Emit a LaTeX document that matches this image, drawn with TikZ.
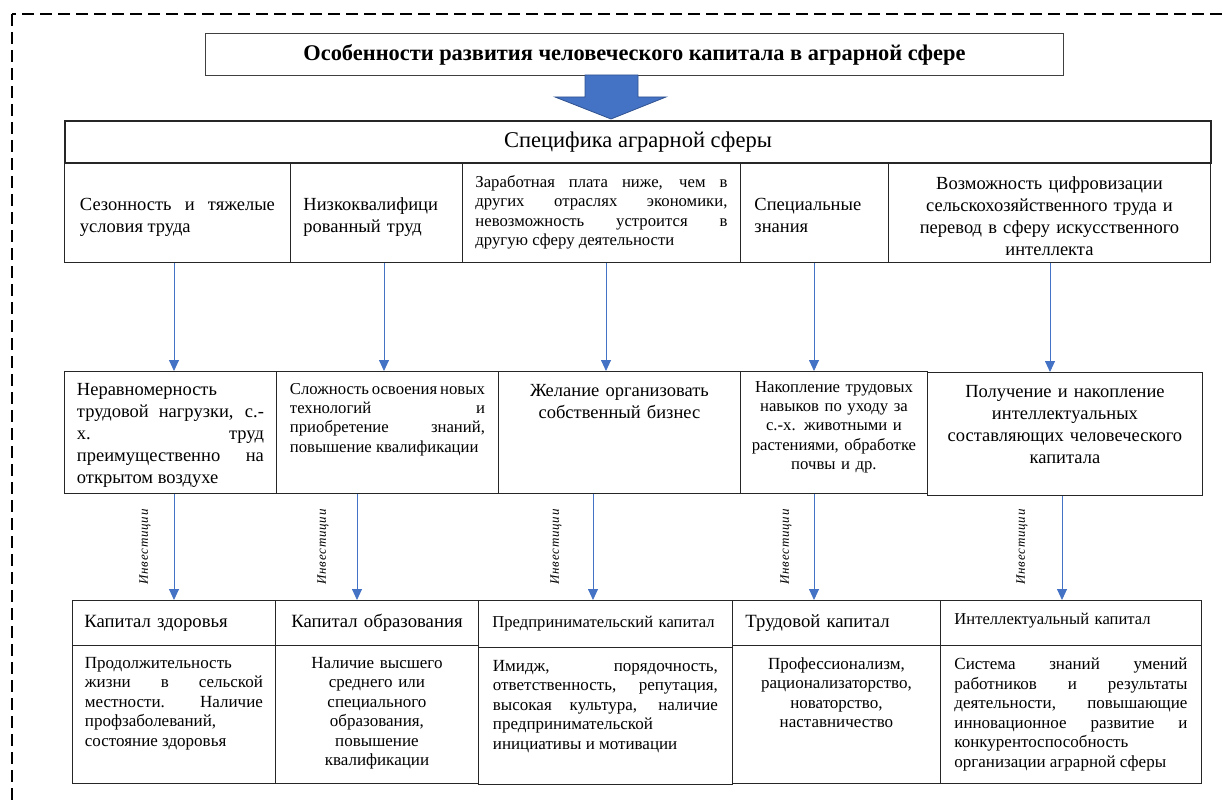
\documentclass[tikz,border=0pt]{standalone}
\usepackage{fontspec}
\setmainfont{Liberation Serif}
\usetikzlibrary{arrows.meta, positioning}
\definecolor{arrblue}{HTML}{4472C4}
\definecolor{arredge}{HTML}{2F528F}
\newcommand{\szTitle}{\fontsize{22.4}{26}\selectfont\bfseries}
\newcommand{\szSpec}{\fontsize{22.5}{26}\selectfont}
\newcommand{\szBig}{\fontsize{18.5}{22}\selectfont}
\newcommand{\szSmall}{\fontsize{16.7}{19.3}\selectfont}
\newcommand{\szBody}{\fontsize{17}{19.5}\selectfont}
\newcommand{\szHead}{\fontsize{18.7}{22}\selectfont}
\newcommand{\szHeadS}{\fontsize{16.6}{19}\selectfont}
\newcommand{\szInv}{\fontsize{13}{15}\selectfont\itshape\addfontfeatures{LetterSpace=6}}
\hyphenpenalty=10000
\exhyphenpenalty=10000

\begin{document}
\begin{tikzpicture}[
            x=1pt, y=-1pt,
            box/.style={draw=black!85, line width=0.9pt, inner ysep=0pt, anchor=north west},
            txt/.style={inner xsep=0pt, inner ysep=0pt},
            arr/.style={draw=arrblue, line width=0.9pt, -{Triangle[width=10pt, length=11pt]}},
            inv/.style={rotate=90, font=\szInv, inner sep=0pt}
        ]
        \useasboundingbox (0,0) rectangle (1228,805);
        \draw[line width=1.6pt, dash pattern=on 12pt off 6pt] (12,14) rectangle (1250,830);

        % header
        \node[box, draw=black!75, minimum width=858, minimum height=42, inner xsep=0pt, font=\szTitle] (title) at (205,33)
            {Особенности развития человеческого капитала в аграрной сфере};
        \filldraw[fill=arrblue, draw=arredge, line width=0.8pt]
            (585,75) -- (638,75) -- (638,97) -- (666,97) -- (611,119) -- (555,97) -- (585,97) -- cycle;

        % specifics
        \node[box, text width=195, inner xsep=15.5, minimum height=100, align=justify, font=\szBig] (s1) at (64,162)
            {Сезонность и тяжелые\linebreak условия труда\vspace{-10pt}};
        \node[box, text width=146, inner xsep=13, minimum height=100, align=left, font=\szBig] (s2) at (290,162)
            {Низкоквалифици\\рованный труд\vspace{-10pt}};
        \node[box, text width=252, inner xsep=13, minimum height=100, align=justify, font=\szSmall] (s3) at (462,162)
            {Заработная плата ниже, чем в\linebreak других отраслях экономики,\linebreak невозможность устроится в\linebreak другую сферу деятельности};
        \node[box, text width=120, inner xsep=14, minimum height=100, align=left, font=\szBig] (s4) at (740,162)
            {Специальные\\знания\vspace{-6pt}};
        \node[box, text width=296, inner xsep=13, minimum height=100, align=center, font=\szBig] (s5) at (888,162)
            {Возможность цифровизации\\сельскохозяйственного труда и\\перевод в сферу искусственного\\интеллекта\vspace{-8pt}};
        \node[box, line width=2pt, minimum width=1146, minimum height=42, inner xsep=0pt, font=\szSpec] (spec) at (64,120)
            {Специфика аграрной сферы};

        % problems
        \node[box, minimum width=212, minimum height=122] (r2a) at (64,371) {};
        \node[box, minimum width=222, minimum height=122] (r2b) at (276,371) {};
        \node[box, minimum width=242, minimum height=122] (r2c) at (498,371) {};
        \node[box, minimum width=187, minimum height=122] (r2d) at (740,371) {};
        \node[box, minimum width=275, minimum height=123] (r2e) at (927,372) {};
        \node[txt, text width=187, align=justify, font=\szBig, below=12pt of r2a.north] (r2at)
            {Неравномерность\\трудовой нагрузки, с.-\linebreak х. труд\linebreak преимущественно на\linebreak открытом воздухе};
        \node[txt, text width=195, align=justify, font=\szSmall, below=12pt of r2b.north] (r2bt)
            {Сложность освоения новых\linebreak технологий и\linebreak приобретение знаний,\linebreak повышение квалификации};
        \node[txt, text width=220, align=center, font=\szBig, below=13pt of r2c.north] (r2ct)
            {Желание организовать\\собственный бизнес};
        \node[txt, text width=180, align=center, font=\szSmall, below=10pt of r2d.north] (r2dt)
            {Накопление трудовых\\навыков по уходу за\\с.-х. животными и\\растениями, обработке\\почвы и др.};
        \node[txt, text width=265, align=center, font=\szBig, below=13pt of r2e.north] (r2et)
            {Получение и накопление\\интеллектуальных\\составляющих человеческого\\капитала};

        % capitals
        \node[box, text width=179, inner xsep=12, minimum height=45, align=left, font=\szHead] (k1h) at (72,600)
            {Капитал здоровья};
        \node[box, text width=179, inner xsep=12, minimum height=45, align=center, font=\szHead] (k2h) at (275,600)
            {Капитал образования};
        \node[box, text width=226, inner xsep=14, minimum height=47, align=left, font=\szHeadS] (k3h) at (478,600)
            {Предпринимательский капитал};
        \node[box, text width=182, inner xsep=13, minimum height=45, align=left, font=\szHead] (k4h) at (732,600)
            {Трудовой капитал};
        \node[box, text width=233, inner xsep=14, minimum height=45, align=left, font=\szHeadS] (k5h) at (940,600)
            {Интеллектуальный капитал\vspace{5pt}};
        \node[box, minimum width=203, minimum height=138] (k1b) at (72,645) {};
        \node[box, minimum width=203, minimum height=138] (k2b) at (275,645) {};
        \node[box, minimum width=254, minimum height=137] (k3b) at (478,647) {};
        \node[box, minimum width=208, minimum height=138] (k4b) at (732,645) {};
        \node[box, minimum width=261, minimum height=138] (k5b) at (940,645) {};
        \node[txt, text width=178, align=justify, font=\szBody, below=12pt of k1b.north] (k1t)
            {Продолжительность\\жизни в сельской\linebreak местности. Наличие\linebreak профзаболеваний,\\состояние здоровья};
        \node[txt, text width=180, align=center, font=\szBody, below=12pt of k2b.north] (k2t)
            {Наличие высшего\\среднего или\\специального\\образования,\\повышение\\квалификации};
        \node[txt, text width=225, align=justify, font=\szBody, below=13pt of k3b.north] (k3t)
            {Имидж, порядочность,\linebreak ответственность, репутация,\linebreak высокая культура, наличие\linebreak предпринимательской\\инициативы и мотивации};
        \node[txt, text width=190, align=center, font=\szBody, below=12pt of k4b.north] (k4t)
            {Профессионализм,\\рационализаторство,\\новаторство,\\наставничество};
        \node[txt, text width=233, align=justify, font=\szBody, below=13pt of k5b.north] (k5t)
            {Система знаний умений\linebreak работников и результаты\linebreak деятельности, повышающие\linebreak инновационное развитие и\linebreak конкурентоспособность\\организации аграрной сферы};

        % arrows
        \draw[arr] (s1.south -| 174,0) -- (r2a.north -| 174,0);
        \draw[arr] (s2.south -| 384,0) -- (r2b.north -| 384,0);
        \draw[arr] (s3.south -| 606,0) -- (r2c.north -| 606,0);
        \draw[arr] (s4.south -| 814,0) -- (r2d.north -| 814,0);
        \draw[arr] (s5.south -| 1050,0) -- (r2e.north -| 1050,0);

        \draw[arr] (r2a.south -| 174,0) -- (k1h.north -| 174,0);
        \draw[arr] (r2b.south -| 357,0) -- (k2h.north -| 357,0);
        \draw[arr] (r2c.south -| 593,0) -- (k3h.north -| 593,0);
        \draw[arr] (r2d.south -| 814,0) -- (k4h.north -| 814,0);
        \draw[arr] (r2e.south -| 1062,0) -- (k5h.north -| 1062,0);

        \node[inv] (inv1) at (145,547) {Инвестиции};
        \node[inv] (inv2) at (323,547) {Инвестиции};
        \node[inv] (inv3) at (556,547) {Инвестиции};
        \node[inv] (inv4) at (786,547) {Инвестиции};
        \node[inv] (inv5) at (1022,547) {Инвестиции};
    \end{tikzpicture}
\end{document}
